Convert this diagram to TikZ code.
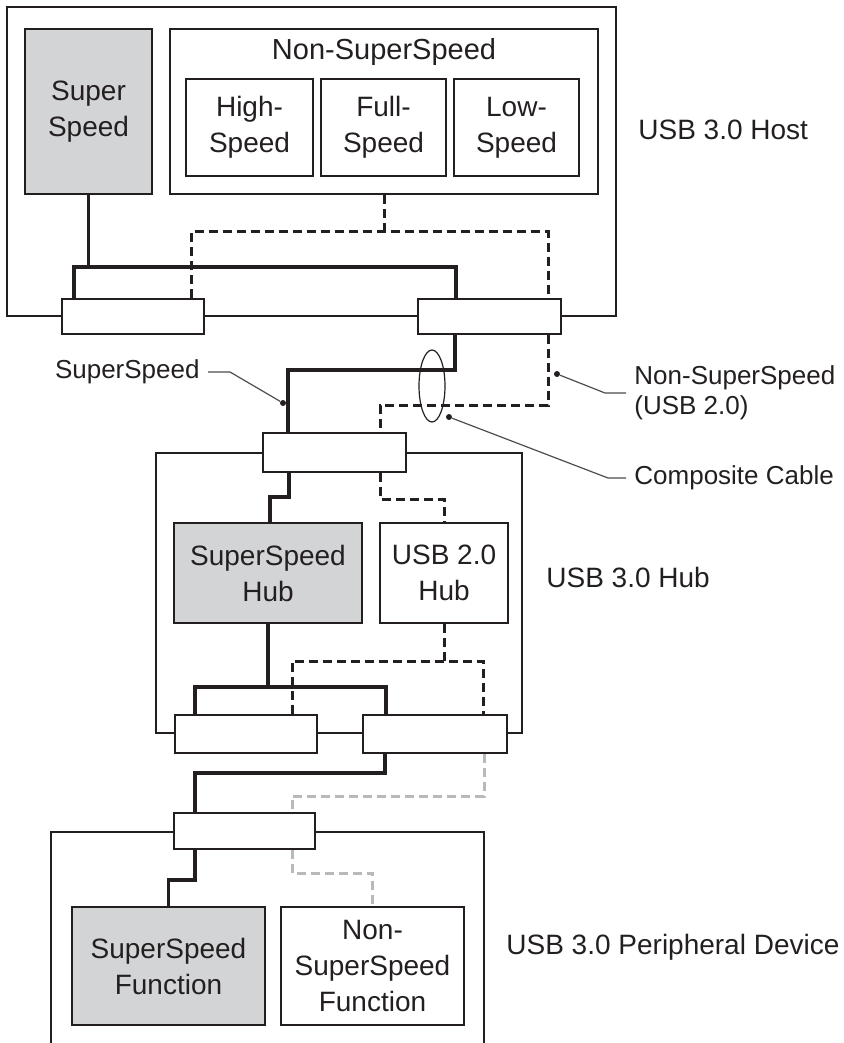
\documentclass[tikz,border=0pt]{standalone}
\usepackage{fontspec}
\setmainfont{Liberation Sans}
\usetikzlibrary{calc,positioning,shapes.geometric}
\definecolor{ssGray}{RGB}{211,212,214}
\definecolor{inkDark}{RGB}{35,31,32}
\definecolor{liteGray}{RGB}{185,185,185}

\begin{document}
\begin{tikzpicture}[x=0.5pt,y=-0.5pt,
  frame/.style={draw=inkDark,line width=0.8pt,inner sep=0pt},
  block/.style={draw=inkDark,line width=0.8pt,inner sep=0pt,align=center,font=\fontsize{14}{18}\selectfont,text=inkDark},
  ssblock/.style={block,fill=ssGray},
  port/.style={draw=inkDark,line width=0.8pt,fill=white,inner sep=0pt},
  sslink/.style={draw=inkDark,line width=1.8pt},
  nsslink/.style={draw=inkDark,line width=1.5pt,dash pattern=on 4.5pt off 2.5pt},
  litelink/.style={draw=liteGray,line width=1.5pt,dash pattern=on 4.5pt off 2.5pt},
  tag/.style={font=\fontsize{14}{18}\selectfont,text=inkDark,anchor=west,inner sep=0pt},
  callout/.style={font=\fontsize{13}{15}\selectfont,text=inkDark,inner sep=0pt,align=left},
  leader/.style={draw=inkDark!80,line width=0.6pt},
  tipdot/.style={circle,fill=inkDark,inner sep=0pt,minimum size=3pt}
]
\useasboundingbox (0,0) rectangle (844,1043);
\clip (0,0) rectangle (844,1043);

% host
\node[frame,minimum width=304.5pt,minimum height=154.5pt] (host) at (311.5,161.5) {};
\node[ssblock,minimum width=63.5pt,minimum height=82.5pt] (ss) at (88.5,111.5) {Super\\Speed};
\node[block,minimum width=214pt,minimum height=82.5pt] (nss) at (384,111.5) {};
\node[font=\fontsize{14.5}{18}\selectfont,text=inkDark,inner sep=0pt] (nsstitle) at (384,52) {Non-SuperSpeed};
\node[block,minimum width=63.5pt,minimum height=48.5pt] (hs) at (249.5,127.5) {High-\\Speed};
\node[block,minimum width=62.5pt,minimum height=48.5pt] (fs) at (383.5,127.5) {Full-\\Speed};
\node[block,minimum width=62.5pt,minimum height=48.5pt] (ls) at (516.5,127.5) {Low-\\Speed};
\node[tag] (hostlbl) at (638,130) {USB 3.0 Host};

% hub
\node[frame,minimum width=183pt,minimum height=140pt] (hub) at (339,593) {};
\node[ssblock,minimum width=94pt,minimum height=50pt] (sshub) at (268,573) {SuperSpeed\\Hub};
\node[block,minimum width=64pt,minimum height=50pt] (usbhub) at (444,573) {USB 2.0\\Hub};
\node[tag] (hublbl) at (546,577) {USB 3.0 Hub};

% device (runs past the lower edge)
\node[frame,minimum width=216.5pt,minimum height=160pt] (dev) at (267.5,992) {};
\node[ssblock,minimum width=96.5pt,minimum height=59pt] (ssfun) at (168.5,966) {SuperSpeed\\Function};
\node[block,minimum width=91.5pt,minimum height=59pt] (nssfun) at (372.5,966) {Non-\\SuperSpeed\\Function};
\node[tag] (devlbl) at (506,947) {USB 3.0 Peripheral Device};

% ports
\node[port,minimum width=71pt,minimum height=17.5pt] (hostL) at (133,316.5) {};
\node[port,minimum width=71.5pt,minimum height=17.5pt] (hostR) at (489.5,316.5) {};
\node[port,minimum width=71.5pt,minimum height=19.5pt] (hubUp) at (334.5,452.5) {};
\node[port,minimum width=71pt,minimum height=19pt] (hubL) at (246,734) {};
\node[port,minimum width=72pt,minimum height=19pt] (hubR) at (435,734) {};
\node[port,minimum width=70.5pt,minimum height=18pt] (devport) at (244.5,831) {};

% links inside host
\draw[sslink] (ss.south) -- (ss.south |- 0,267);
\draw[sslink] (hostL.north -| 74,0) |- (456,267) -- (hostR.north -| 456,0);
\draw[nsslink] (nss.south) -- (nss.south |- 0,232);
\draw[nsslink] (hostL.north -| 191,0) |- (548,232) -- (hostR.north -| 548,0);

% cable
\draw[sslink] (hostR.south -| 455,0) |- (288,370) -- (hubUp.north -| 288,0);
\draw[nsslink] (hostR.south -| 548,0) |- (380,405) -- (hubUp.north -| 380,0);

% links inside hub
\draw[sslink] (hubUp.south -| 289,0) |- (270,497) -- (sshub.north -| 270,0);
\draw[nsslink] (hubUp.south -| 380,0) |- (444,499) -- (usbhub.north);
\draw[sslink] (sshub.south) -- (sshub.south |- 0,687);
\draw[sslink] (hubL.north -| 195,0) |- (386,687) -- (hubR.north -| 386,0);
\draw[nsslink] (usbhub.south) -- (usbhub.south |- 0,661);
\draw[nsslink] (hubL.north -| 292,0) |- (483,661) -- (hubR.north -| 483,0);

% hub to device
\draw[sslink] (hubR.south -| 385,0) |- (195,773) -- (devport.north -| 195,0);
\draw[litelink] (hubR.south -| 484,0) |- (292,796) -- (devport.north -| 292,0);
\draw[sslink] (devport.south -| 195,0) |- (168.5,880) -- (ssfun.north);
\draw[litelink] (devport.south -| 292,0) |- (372.5,873) -- (nssfun.north);

% callouts
\node[draw=inkDark,line width=0.6pt,ellipse,inner sep=0pt,minimum width=13pt,minimum height=36pt] (cable) at (432,386) {};
\node[callout,anchor=east] (sslbl) at (200,372) {SuperSpeed};
\node[callout,anchor=west] (nsslbl) at (634,393) {Non-SuperSpeed\\(USB 2.0)};
\node[callout,anchor=west] (cablbl) at (634,478) {Composite Cable};
\node[tipdot] (ssdot) at (283,403) {};
\node[tipdot] (nssdot) at (557,374) {};
\node[tipdot] (cabdot) at (449,417) {};
\draw[leader] ([xshift=4pt]sslbl.east) -- ([xshift=15pt]sslbl.east) -- (ssdot);
\draw[leader] (nssdot) -- (605,393) -- ([xshift=-4pt]nsslbl.west);
\draw[leader] (cabdot) -- (608,478) -- ([xshift=-4pt]cablbl.west);
\end{tikzpicture}
\end{document}
